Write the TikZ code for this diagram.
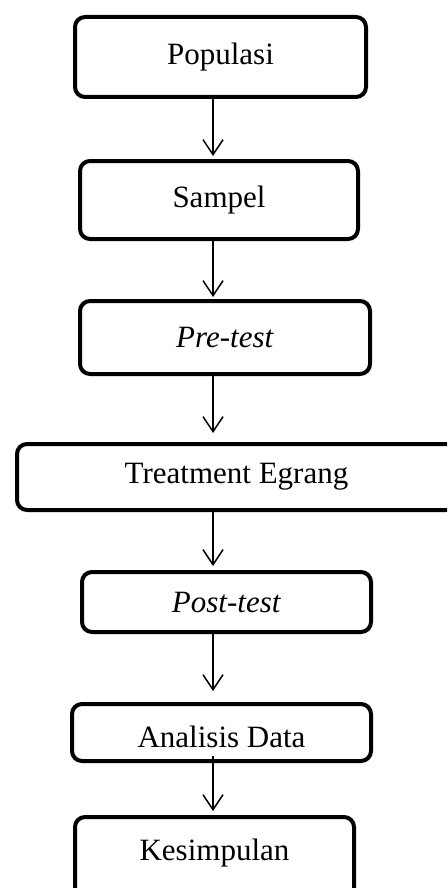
\documentclass[tikz,border=0pt]{standalone}
\usepackage{fontspec}
\setmainfont{Liberation Serif}
\usetikzlibrary{arrows.meta}
\tikzset{
  box/.style = {draw, line width=4pt, rounded corners=10pt, inner sep=0pt,
    align=center, font=\fontsize{31}{36}\selectfont},
  arr/.style = {line width=1.5pt, -{Straight Barb[length=15pt, width=20pt, line width=1.5pt]}}
}
\newcommand{\lift}[2]{\raisebox{#1}[\height][\depth]{#2}}
\begin{document}
\begin{tikzpicture}[x=1pt, y=-1pt]
\useasboundingbox (0,0) rectangle (447,888);
\clip (0,0) rectangle (447,888);
\fill[white] (0,0) rectangle (447,888);
\coordinate (ax) at (213,0);
\node[box, minimum width=291pt, minimum height=80pt] (pop) at (220.5,57) {Populasi};
\node[box, minimum width=278pt, minimum height=78pt] (sam) at (219,200) {Sampel};
\node[box, minimum width=290pt, minimum height=73pt] (pre) at (225,337.5) {\textit{Pre-test}};
\node[box, minimum width=439pt, minimum height=66pt] (tre) at (236.5,477) {Treatment Egrang};
\node[box, minimum width=289pt, minimum height=60pt] (post) at (226.5,602) {\textit{Post-test}};
\node[box, minimum width=299pt, minimum height=57pt] (ana) at (221.5,732.5) {\lift{-4pt}{Analisis Data}};
\node[box, minimum width=279pt, minimum height=88pt] (kes) at (214.5,861) {\lift{8pt}{Kesimpulan}};
\draw[arr, shorten >=3pt] (pop.south -| ax) -- (sam.north -| ax);
\draw[arr, shorten >=2pt] (sam.south -| ax) -- (pre.north -| ax);
\draw[arr, shorten >=9pt] (pre.south -| ax) -- (tre.north -| ax);
\draw[arr, shorten >=4pt] (tre.south -| ax) -- (post.north -| ax);
\draw[arr, shorten >=11pt] (post.south -| ax) -- (ana.north -| ax);
\draw[arr, shorten <=-7pt, shorten >=4pt] (ana.south -| ax) -- (kes.north -| ax);
\end{tikzpicture}
\end{document}
